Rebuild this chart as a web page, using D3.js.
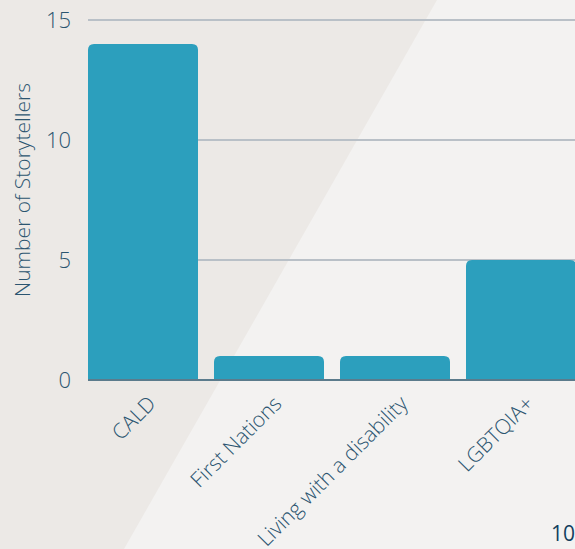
<!DOCTYPE html>
<html>
<head>
<meta charset="utf-8">
<script src="https://cdn.jsdelivr.net/npm/d3@7"></script>
<style>
  html, body { margin: 0; padding: 0; background: #f3f2f1; }
  svg { display: block; }
  text { font-family: "Open Sans", "Noto Sans", sans-serif; }
</style>
</head>
<body>
<svg id="chart" width="575" height="549"></svg>
<script>
// Storyteller counts by community group
const categories = ["CALD", "First Nations", "Living with a disability", "LGBTQIA+"];
const storytellers = [14, 1, 1, 5];
const yTicks = [0, 5, 10, 15];
const pageNumber = "10";

const W = 575, H = 549;
const svg = d3.select("#chart");

// Two-tone page background with a diagonal split
svg.append("rect").attr("width", W).attr("height", H).attr("fill", "#f3f2f1");
svg.append("path")
  .attr("d", d3.line()([[0, 0], [437, 0], [124, H], [0, H]]) + "Z")
  .attr("fill", "#ece9e6");

const x = d3.scaleBand()
  .domain(categories)
  .range([80, 584])
  .paddingInner(16 / 126)
  .paddingOuter(8 / 126);

const y = d3.scaleLinear().domain([0, 15]).range([380, 20]);

const textColor = "#2b5570";

// Horizontal gridlines
svg.append("g")
  .selectAll("line")
  .data(yTicks.filter(d => d > 0))
  .join("line")
  .attr("x1", 88).attr("x2", W)
  .attr("y1", d => y(d)).attr("y2", d => y(d))
  .attr("stroke", "#b9c0c7")
  .attr("stroke-width", 2);

// Y axis tick labels
const yAxis = d3.axisLeft(y).tickValues(yTicks).tickSize(0).tickPadding(0).tickFormat(d3.format("d"));
const gy = svg.append("g").attr("transform", "translate(71,0)").call(yAxis);
gy.select(".domain").remove();
gy.selectAll("text")
  .attr("font-size", 22)
  .attr("font-weight", 300)
  .attr("fill", textColor)
  .attr("font-family", "'Open Sans', sans-serif");

// Bars with rounded top corners
const r = 6;
function barPath(x0, w, yTop, yBase) {
  return `M${x0},${yBase}V${yTop + r}Q${x0},${yTop} ${x0 + r},${yTop}` +
         `H${x0 + w - r}Q${x0 + w},${yTop} ${x0 + w},${yTop + r}V${yBase}Z`;
}
svg.append("g")
  .selectAll("path")
  .data(categories.map((c, i) => ({ c, v: storytellers[i] })))
  .join("path")
  .attr("d", d => barPath(x(d.c), x.bandwidth(), y(d.v), y(0)))
  .attr("fill", "#2c9fbd");

// Baseline
svg.append("line")
  .attr("x1", 88).attr("x2", W)
  .attr("y1", y(0)).attr("y2", y(0))
  .attr("stroke", "#5b7b8c")
  .attr("stroke-width", 2);

// X axis labels, rotated
const xAxis = d3.axisBottom(x).tickSize(0).tickPadding(0);
const gx = svg.append("g").attr("transform", `translate(0,${y(0)})`).call(xAxis);
gx.select(".domain").remove();
gx.selectAll("text")
  .attr("font-size", 21)
  .attr("font-weight", 300)
  .attr("fill", textColor)
  .attr("font-family", "'Open Sans', sans-serif")
  .attr("text-anchor", "end")
  .attr("dy", 0)
  .attr("transform", "translate(14,25) rotate(-45)");

// Y axis title
svg.append("text")
  .attr("transform", "translate(30,190) rotate(-90)")
  .attr("text-anchor", "middle")
  .attr("font-size", 21)
  .attr("font-weight", 300)
  .attr("fill", textColor)
  .text("Number of Storytellers");

// Page number
svg.append("text")
  .attr("x", 551).attr("y", 541)
  .attr("font-family", "'Liberation Serif', 'DejaVu Serif', serif")
  .attr("font-size", 21)
  .attr("fill", "#123f5e")
  .text(pageNumber);
</script>
</body>
</html>
